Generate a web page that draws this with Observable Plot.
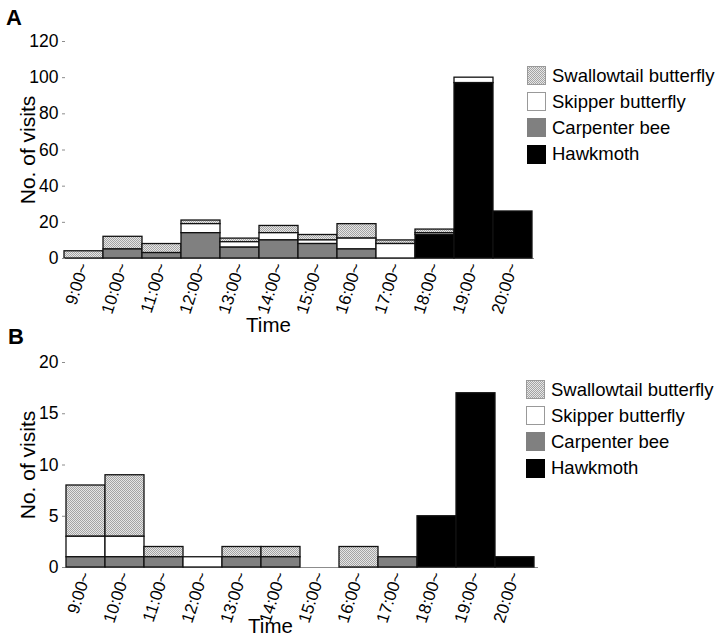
<!DOCTYPE html>
<html>
<head>
<meta charset="utf-8">
<script src="https://cdn.jsdelivr.net/npm/d3@7"></script>
<script src="https://cdn.jsdelivr.net/npm/@observablehq/plot@0.6"></script>
<style>
  body { margin: 0; background: #fff; font-family: "Liberation Sans", Arial, sans-serif; }
  #root { position: relative; width: 720px; height: 639px; overflow: hidden; }
  .panel { position: absolute; left: 0; }
  .panel svg { display: block; }
  .letter { position: absolute; font-weight: bold; font-size: 22px; line-height: 22px; color: #000; }
  .legend { position: absolute; font-size: 18.5px; color: #000; }
  .row { position: absolute; left: 0; height: 19px; display: flex; align-items: center; white-space: nowrap; }
  .sw { width: 19px; height: 19px; box-sizing: border-box; border: 1px solid #999; margin-right: 6px; flex: none; }
</style>
</head>
<body>
<div id="root">
  <div id="panelA" class="panel" style="top:0px"></div>
  <div id="panelB" class="panel" style="top:340px"></div>
  <div class="letter" style="left:6px; top:7px">A</div>
  <div class="letter" style="left:8px; top:326px">B</div>
  <div id="legendA" class="legend" style="left:527px; top:66px"></div>
  <div id="legendB" class="legend" style="left:526px; top:380px"></div>
</div>
<script>
const times = ["9:00~", "10:00~", "11:00~", "12:00~", "13:00~", "14:00~", "15:00~", "16:00~", "17:00~", "18:00~", "19:00~", "20:00~"];
const species = ["Swallowtail butterfly", "Skipper butterfly", "Carpenter bee", "Hawkmoth"];
const stackOrder = ["Hawkmoth", "Carpenter bee", "Skipper butterfly", "Swallowtail butterfly"];
const yTicksA = [0, 20, 40, 60, 80, 100, 120];
const yTicksB = [0, 5, 10, 15, 20];

// Panel A
const swallowtailA = [4, 7, 5, 2, 2, 4, 3, 8, 2, 2, 0, 0];
const skipperA     = [0, 0, 0, 5, 3, 4, 2, 6, 8, 1, 3, 0];
const carpenterA   = [0, 5, 3, 14, 6, 10, 8, 5, 0, 0, 0, 0];
const hawkmothA    = [0, 0, 0, 0, 0, 0, 0, 0, 0, 13, 97, 26];

// Panel B
const swallowtailB = [5, 6, 1, 0, 1, 1, 0, 2, 0, 0, 0, 0];
const skipperB     = [2, 2, 0, 1, 0, 0, 0, 0, 0, 0, 0, 0];
const carpenterB   = [1, 1, 1, 0, 1, 1, 0, 0, 1, 0, 0, 0];
const hawkmothB    = [0, 0, 0, 0, 0, 0, 0, 0, 0, 5, 17, 1];

function toRows(sw, sk, cb, hm) {
  const series = [sw, sk, cb, hm];
  const rows = [];
  times.forEach((t, i) => {
    species.forEach((s, j) => {
      rows.push({time: t, species: s, value: series[j][i]});
    });
  });
  return rows;
}

const SVGNS = "http://www.w3.org/2000/svg";
function addPattern(svg, id) {
  const defs = document.createElementNS(SVGNS, "defs");
  const pat = document.createElementNS(SVGNS, "pattern");
  pat.setAttribute("id", id);
  pat.setAttribute("width", "2");
  pat.setAttribute("height", "2");
  pat.setAttribute("patternUnits", "userSpaceOnUse");
  const cells = [[0, 0, "#a4a4a4"], [1, 0, "#e6e6e6"], [0, 1, "#e6e6e6"], [1, 1, "#a4a4a4"]];
  for (const [x, y, c] of cells) {
    const r = document.createElementNS(SVGNS, "rect");
    r.setAttribute("x", x); r.setAttribute("y", y);
    r.setAttribute("width", 1); r.setAttribute("height", 1);
    r.setAttribute("fill", c);
    pat.appendChild(r);
  }
  defs.appendChild(pat);
  svg.insertBefore(defs, svg.firstChild);
}

function makePanel(cfg) {
  const data = cfg.data.filter(d => d.value > 0);
  const svg = Plot.plot({
    width: 720,
    height: cfg.height,
    marginLeft: 62,
    marginRight: cfg.marginRight,
    marginTop: cfg.marginTop,
    marginBottom: cfg.marginBottom,
    style: {fontFamily: "'Liberation Sans', Arial, sans-serif", fontSize: "17px", color: "#000", background: "transparent", overflow: "visible"},
    x: {domain: times, padding: 0, label: null},
    y: {domain: [0, cfg.yMax], label: null},
    color: {domain: species, range: [`url(#${cfg.id})`, "#ffffff", "#808080", "#000000"]},
    marks: [
      Plot.ruleY([0], {stroke: "#8c8c8c", strokeWidth: 1.2}),
      Plot.barY(data, {x: "time", y: "value", fill: "species", order: stackOrder, stroke: "#111", strokeWidth: 1.3}),
      Plot.axisX({tickSize: 0, tickPadding: 5, tickRotate: -72, fontSize: 17, label: null}),
      Plot.axisY({ticks: cfg.yTicks, tickSize: -3, tickPadding: 7, stroke: "#8c8c8c", fill: "#000", line: true, fontSize: 17.5, label: null}),
      Plot.text(["Time"], {text: d => d, frameAnchor: "bottom", textAnchor: "middle", lineAnchor: "middle", dx: cfg.timeDx, dy: cfg.timeDy, fontSize: 20.5}),
      Plot.text(["No. of visits"], {text: d => d, frameAnchor: "left", textAnchor: "middle", lineAnchor: "middle", dx: -34, rotate: -90, fontSize: 21})
    ]
  });
  addPattern(svg, cfg.id);
  document.getElementById(cfg.target).appendChild(svg);
}

makePanel({target: "panelA", id: "hatchA", data: toRows(swallowtailA, skipperA, carpenterA, hawkmothA),
  yMax: 120, yTicks: yTicksA, height: 340, marginTop: 41, marginBottom: 82, marginRight: 186, timeDx: -30, timeDy: 67});
makePanel({target: "panelB", id: "hatchB", data: toRows(swallowtailB, skipperB, carpenterB, hawkmothB),
  yMax: 20, yTicks: yTicksB, height: 299, marginTop: 22, marginBottom: 72, marginRight: 182, timeDx: -30, timeDy: 59});

const swatchStyle = [
  "background: repeating-conic-gradient(#a4a4a4 0 25%, #e6e6e6 0 50%) 0 0 / 2px 2px; border-color:#999;",
  "background:#fff; border-color:#999;",
  "background:#808080; border-color:#808080;",
  "background:#000; border-color:#000;"
];
function makeLegend(target) {
  const el = document.getElementById(target);
  species.forEach((s, i) => {
    const row = document.createElement("div");
    row.className = "row";
    row.style.top = (i * 26.2) + "px";
    const sw = document.createElement("div");
    sw.className = "sw";
    sw.setAttribute("style", swatchStyle[i]);
    const label = document.createElement("span");
    label.textContent = s;
    row.appendChild(sw);
    row.appendChild(label);
    el.appendChild(row);
  });
}
makeLegend("legendA");
makeLegend("legendB");
</script>
</body>
</html>
